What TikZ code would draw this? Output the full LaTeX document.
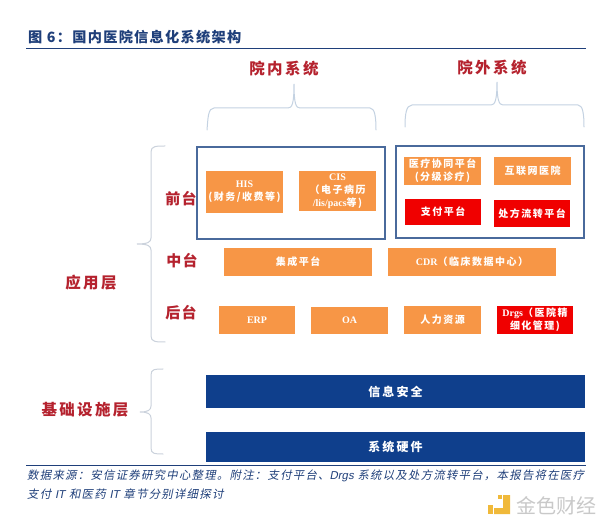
\documentclass[tikz,border=0pt]{standalone}
\usepackage{fontspec}
\setmainfont{Liberation Serif}
\newfontfamily\cjk{Noto Sans CJK SC}
\newfontfamily\cjkit[FakeSlant=0.2]{Noto Sans CJK SC}
\newfontfamily\latit[FakeSlant=0.2]{Liberation Sans}
\newfontfamily\latn{Liberation Serif}
\newcommand{\fcolon}{\char"FF1A\relax}
\newcommand{\fcomma}{\char"FF0C\relax}
\newcommand{\flp}{\char"FF08\relax}
\newcommand{\frp}{\char"FF09\relax}
\definecolor{navy}{HTML}{0F3F8C}
\definecolor{titleblue}{HTML}{1F3F7A}
\definecolor{rulecol}{HTML}{1F3F7A}
\definecolor{labred}{HTML}{B5222E}
\definecolor{orangebox}{HTML}{F79646}
\definecolor{redbox}{HTML}{F00000}
\definecolor{frameblue}{HTML}{4A6A9C}
\definecolor{bracecol}{HTML}{C4D2E2}
\definecolor{bracegray}{HTML}{CBD2DC}
\definecolor{markgold}{HTML}{F0B93A}
\definecolor{markgray}{HTML}{C9C9C9}
\tikzset{
  x=1pt,y=-1pt,
  box/.style={inner sep=0pt,align=center,text=white,font=\cjk\bfseries\fontsize{10}{13}\selectfont\addfontfeature{LetterSpace=15}},
  bigbox/.style={box,font=\cjk\bfseries\fontsize{12}{14}\selectfont\addfontfeature{LetterSpace=18}},
  lab/.style={text=labred,inner sep=0pt,font=\cjk\bfseries\fontsize{15}{15}\selectfont\addfontfeature{LetterSpace=8}},
  laybl/.style={text=labred,inner sep=0pt,font=\cjk\bfseries\fontsize{15.5}{15}\selectfont\addfontfeature{LetterSpace=15}},
  head/.style={text=labred,inner sep=0pt,font=\cjk\bfseries\fontsize{15.5}{15}\selectfont\addfontfeature{LetterSpace=16}},
  frame/.style={draw=frameblue,line width=1.1pt},
  brace/.style={draw=bracecol,line width=1pt,line cap=round},
  foot/.style={text=titleblue,inner sep=0pt,anchor=west,font=\cjkit\fontsize{11.4}{12}\selectfont\addfontfeature{LetterSpace=11}},
}
\newcommand{\fillbox}[8][box]{% style, name, x1,y1,x2,y2,color,text
  \path[fill=#7] (#3,#4) rectangle (#5,#6);
  \node[#1] (#2) at ({(#3+#5)/2},{(#4+#6)/2}) {#8};
}
\begin{document}
\begin{tikzpicture}
\useasboundingbox (0,0) rectangle (600,521);
\fill[white] (0,0) rectangle (600,521);
% title
\node[anchor=west,inner sep=0pt,text=titleblue,font=\cjk\bfseries\fontsize{14.2}{14}\selectfont\addfontfeature{LetterSpace=9}] (title) at (28,37) {图 6\fcolon 国内医院信息化系统架构};
\draw[rulecol,line width=1pt] (26,49) -- (586,49);
\draw[rulecol,line width=1pt] (26,465) -- (586,465);
% heads
\node[head] (h1) at (284,69) {院内系统};
\node[head] (h2) at (492,68) {院外系统};
% top braces
\draw[brace] (207,130) .. controls (208,118) and (208,108) .. (214,108) -- (288,108) .. controls (292,108) and (294,104) .. (294,84) .. controls (294,104) and (296,108) .. (300,108) -- (370,108) .. controls (375,108) and (376,118) .. (376,130);
\draw[brace] (405,127) .. controls (405,115) and (406,105) .. (412,105) -- (491,105) .. controls (495,105) and (497,100) .. (497,82) .. controls (497,100) and (499,105) .. (503,105) -- (578,105) .. controls (583,105) and (584,115) .. (584,127);
% left braces
\draw[brace,draw=bracegray] (165,146) .. controls (156,146) and (151,146) .. (151,152) -- (151,238) .. controls (151,242) and (148,244) .. (137,244) .. controls (148,244) and (151,246) .. (151,250) -- (151,336) .. controls (151,342) and (156,342) .. (165,342);
\draw[brace,draw=bracegray] (163,369) .. controls (155,369) and (151,369) .. (151,375) -- (151,406) .. controls (151,410) and (148,412) .. (140,412) .. controls (148,412) and (151,414) .. (151,418) -- (151,448) .. controls (151,454) and (155,454) .. (163,454);
% frames
\draw[frame] (197,147) rectangle (385,239);
\draw[frame] (396,146) rectangle (584,238);
% boxes
\fillbox{his}{206}{171}{283}{213}{orangebox}{{\latn HIS}\\(财务/收费等)}
\fillbox{cis}{299}{171}{376}{211}{orangebox}{{\latn CIS}\\\flp 电子病历\\{\latn /lis/pacs}等)}
\fillbox{xt}{404}{157}{481}{185}{orangebox}{医疗协同平台\\(分级诊疗)}
\fillbox{hl}{494}{157}{571}{185}{orangebox}{互联网医院}
\fillbox{zf}{405}{199}{481}{225}{redbox}{支付平台}
\fillbox{cf}{494}{200}{570}{227}{redbox}{处方流转平台}
\fillbox{jc}{224}{248}{372}{276}{orangebox}{集成平台}
\fillbox{cdr}{388}{248}{556}{276}{orangebox}{{\latn CDR}\flp 临床数据中心\frp}
\fillbox{erp}{219}{306}{295}{334}{orangebox}{{\latn ERP}}
\fillbox{oa}{311}{307}{388}{334}{orangebox}{{\latn OA}}
\fillbox{rl}{404}{306}{481}{334}{orangebox}{人力资源}
\fillbox{dr}{497}{306}{573}{334}{redbox}{{\latn Drgs}\flp 医院精\\细化管理)}
\fillbox[bigbox]{aq}{206}{375}{585}{408}{navy}{信息安全}
\fillbox[bigbox]{yj}{206}{432}{585}{462}{navy}{系统硬件}
% labels
\node[lab] (qt) at (181,199) {前台};
\node[lab] (zt) at (182,261) {中台};
\node[lab] (ht) at (181,313) {后台};
\node[laybl] (yy) at (91,283) {应用层};
\node[laybl] (jc2) at (85,410) {基础设施层};
% footer
\node[foot] (f1) at (27,476) {数据来源\fcolon 安信证券研究中心整理。附注\fcolon 支付平台、{\latit Drgs} 系统以及处方流转平台\fcomma 本报告将在医疗};
\node[foot] (f2) at (27,494) {支付 {\latit IT} 和医药 {\latit IT} 章节分别详细探讨};
% watermark
\fill[markgold] (503,495) -- (510,495) -- (510,514) -- (494,514) -- (494,508) -- (503,508) -- cycle;
\fill[markgold] (488,505) rectangle (493,514);
\fill[markgold] (498,495) rectangle (502,499);
\node[inner sep=0pt,text=markgray,anchor=west,font=\cjk\fontsize{20}{20}\selectfont] (wm) at (516,506) {金色财经};
\end{tikzpicture}
\end{document}
